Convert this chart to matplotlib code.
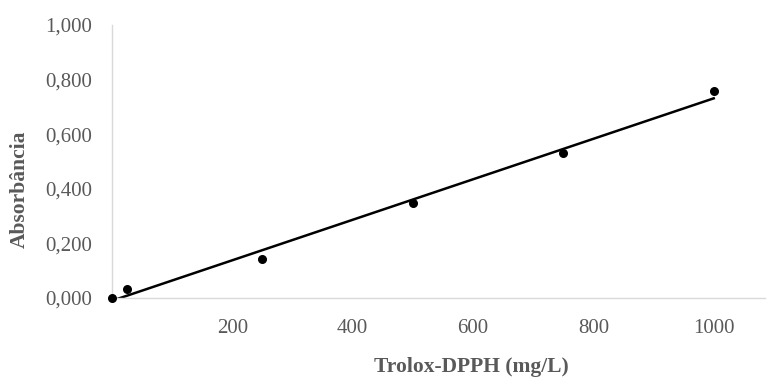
import numpy as np
import matplotlib.pyplot as plt
from matplotlib.ticker import FuncFormatter

# calibration data
concentration = [0, 25, 250, 500, 750, 1000]
absorbance = [0.000, 0.034, 0.143, 0.347, 0.531, 0.757]
x_ticks = [200, 400, 600, 800, 1000]
y_ticks = [0.0, 0.2, 0.4, 0.6, 0.8, 1.0]

plt.rcParams['font.family'] = ['Liberation Serif', 'DejaVu Serif']

fig = plt.figure(figsize=(7.67, 3.79), dpi=100)
ax = fig.add_axes([0.146, 0.2137, 0.852, 0.7203])

# linear trendline
slope, intercept = np.polyfit(concentration, absorbance, 1)
xs = np.array([concentration[0], concentration[-1]])
ax.plot(xs, slope * xs + intercept, color='black', linewidth=1.8, zorder=2)
ax.scatter(concentration, absorbance, color='black', s=30, zorder=3, clip_on=False)

ax.set_xlim(0, 1086)
ax.set_ylim(0, 1.0)
ax.set_xticks(x_ticks)
ax.set_yticks(y_ticks)
ax.yaxis.set_major_formatter(FuncFormatter(lambda v, p: f"{v:.3f}".replace('.', ',')))

for s in ['top', 'right']:
    ax.spines[s].set_visible(False)
for s in ['left', 'bottom']:
    ax.spines[s].set_color('#d9d9d9')
    ax.spines[s].set_linewidth(1.0)

ax.tick_params(length=0, labelsize=15, colors='#595959')
ax.tick_params(axis='y', pad=14)
ax.tick_params(axis='x', pad=15)

ax.set_xlabel('Trolox-DPPH (mg/L)', fontsize=15.5, fontweight='bold', color='#595959')
ax.set_ylabel('Absorbância', fontsize=15.5, fontweight='bold', color='#595959')
ax.xaxis.set_label_coords(0.55, -0.215)
ax.yaxis.set_label_coords(-0.126, 0.40)

fig.savefig('out.png', dpi=100)
